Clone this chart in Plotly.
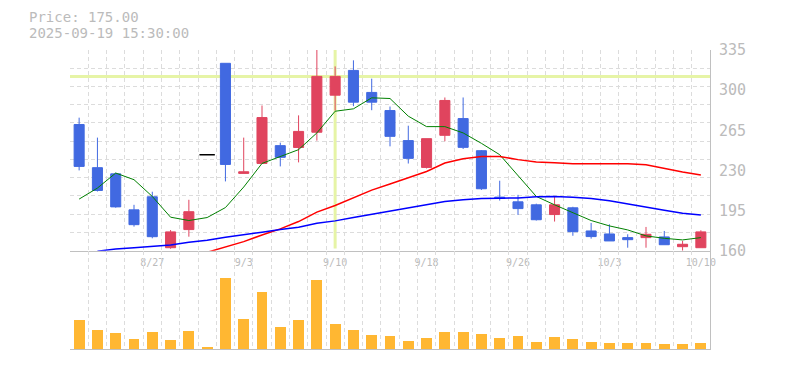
import plotly.graph_objects as go

# ---------------- data ----------------
dates = ["8/21", "8/22", "8/25", "8/26", "8/27", "8/28", "8/29", "9/1", "9/2", "9/3",
         "9/4", "9/5", "9/8", "9/9", "9/10", "9/11", "9/12", "9/16", "9/17", "9/18",
         "9/19", "9/22", "9/24", "9/25", "9/26", "9/29", "9/30", "10/1", "10/2", "10/3",
         "10/6", "10/7", "10/8", "10/9", "10/10"]

open_ = [270, 232.4, 227, 195.6, 207, 162.6, 178.4, 243.7, 323.4, 227.4,
         236.1, 251.6, 250, 263.3, 295.6, 317.2, 298, 282.2, 256, 232.6,
         260.6, 275.2, 247.2, 206.7, 202.6, 200, 191.5, 197.4, 177.2, 174.6,
         171.4, 171.4, 172, 163.5, 162.6]
high = [276, 258.6, 228, 200, 211.4, 178, 204.4, 243.7, 323.4, 258.6,
        286.6, 254.2, 278, 336, 320.7, 326, 310, 285.7, 269, 257.7,
        293.6, 293.6, 247.8, 221, 208.7, 201, 207.3, 198.3, 184.2, 183,
        174.3, 180.7, 177.2, 168.5, 177.8]
low = [230, 211.6, 197.5, 181, 170.8, 161.7, 172.2, 243.7, 220.4, 227.4,
       236, 233.5, 237, 256, 282.2, 286, 282.5, 251, 236, 231.7,
       255.4, 248.7, 213, 203.7, 191.2, 186.3, 185.4, 173, 170.5, 168.5,
       162.6, 162.6, 165.2, 160, 162.6]
close = [233.5, 212.5, 198.2, 182.7, 172.2, 176.4, 194, 243.7, 235.2, 228.8,
         276.1, 241.4, 264, 312, 312, 289.5, 289.5, 259.7, 240.5, 257.7,
         291, 250.1, 214, 205.5, 196.7, 187, 200, 176.6, 172.3, 168.5,
         169.6, 174.3, 165.2, 165.6, 176.4]

volume = [290000, 190000, 160000, 100000, 170000, 90000, 180000, 20000, 710000, 300000,
          570000, 220000, 290000, 690000, 250000, 190000, 140000, 130000, 80000, 110000,
          170000, 170000, 150000, 110000, 130000, 70000, 120000, 100000, 70000, 60000,
          60000, 60000, 50000, 50000, 60000]

ma_short = [205.0, 214.6, 227.7, 221.9, 207.3, 189.2, 186.3, 188.9, 197.6, 215.5,
            236.1, 242.2, 248.1, 262.7, 281.6, 283.7, 293.3, 292.7, 277.3, 268.2,
            268.2, 262.7, 253.6, 243.7, 225.1, 207.3, 200, 193, 186.3, 181.6,
            178.1, 172.9, 170.8, 169.4, 171.4]
ma_mid = [None, None, None, None, None, None, None, 158.6, 163.5, 167.9,
          173.7, 179, 185.4, 193.6, 199.4, 205.8, 212.8, 218.1, 223.3, 229.1,
          236.5, 240.2, 242.2, 242.2, 239.4, 237.3, 236.7, 235.9, 235.9, 235.9,
          235.9, 235, 231.5, 228.6, 226]
ma_long = [None, 159.5, 161.5, 162.6, 164.1, 165, 167.3, 169.1, 171.7, 173.7,
           176.1, 178.4, 180.5, 184, 186, 188.9, 191.8, 194.1, 197.1, 200,
           202.9, 204.4, 205.5, 205.8, 205.9, 207, 207.3, 206.7, 205.5, 203.5,
           200.6, 197.6, 195.3, 192.7, 191.2]

price_ticks = [160, 195, 230, 265, 300, 335]
label_every = 5
label_start = 4
cross_idx = 14
cross_price = 312
header_price = "Price: 175.00"
header_time = "2025-09-19 15:30:00"

# ---------------- styling ----------------
FONT = "DejaVu Sans Mono"
UP = "#e0445e"
DOWN = "#4169e1"
VOL = "#ffb732"
GRID = "#dcdcdc"
AXLINE = "#c0c0c0"
TXT = "#bbbbbb"
CROSS = "#e6f4a6"

n = len(dates)
xs = list(range(n))
pmin, pmax = price_ticks[0], price_ticks[-1]
vol_range = [0, 983000]
split = 0.3288

# split out flat (doji) candles
c_open, c_high, c_low, c_close = [], [], [], []
flat_x, flat_y = [], []
for i in xs:
    if open_[i] == close[i]:
        c_open.append(None); c_high.append(None); c_low.append(None); c_close.append(None)
        flat_x.append(i); flat_y.append(close[i])
    else:
        c_open.append(open_[i]); c_high.append(high[i]); c_low.append(low[i]); c_close.append(close[i])

fig = go.Figure()

fig.add_trace(go.Candlestick(
    x=xs, open=c_open, high=c_high, low=c_low, close=c_close,
    increasing=dict(line=dict(color=UP, width=1), fillcolor=UP),
    decreasing=dict(line=dict(color=DOWN, width=1), fillcolor=DOWN),
    whiskerwidth=0, xaxis="x", yaxis="y", showlegend=False, hoverinfo="skip"))

fig.add_trace(go.Scatter(
    x=flat_x, y=flat_y, mode="markers",
    marker=dict(symbol="line-ew", size=11, line=dict(color="black", width=1.5)),
    xaxis="x", yaxis="y", showlegend=False, hoverinfo="skip"))

fig.add_trace(go.Scatter(x=xs, y=ma_short, mode="lines", line=dict(color="#008000", width=1),
                         xaxis="x", yaxis="y", showlegend=False, hoverinfo="skip"))
fig.add_trace(go.Scatter(x=xs, y=ma_mid, mode="lines", line=dict(color="#ff0000", width=1.5),
                         xaxis="x", yaxis="y", showlegend=False, hoverinfo="skip"))
fig.add_trace(go.Scatter(x=xs, y=ma_long, mode="lines", line=dict(color="#0000ff", width=1.5),
                         xaxis="x", yaxis="y", showlegend=False, hoverinfo="skip"))

fig.add_trace(go.Bar(x=xs, y=volume, width=0.6, marker=dict(color=VOL, line=dict(width=0)),
                     xaxis="x2", yaxis="y2", showlegend=False, hoverinfo="skip"))

# overlay axis carrying the price labels
fig.add_trace(go.Scatter(x=[None], y=[None], xaxis="x", yaxis="y3", showlegend=False,
                         hoverinfo="skip"))

slot_bounds = [k - 0.5 for k in range(n + 1)]
hgrid = [pmin + (pmax - pmin) * k / 11 for k in range(12)]
label_idx = list(range(label_start, n, label_every))

minor_x = dict(tickmode="array", tickvals=slot_bounds, showgrid=True,
               gridcolor=GRID, griddash="4px,3px", gridwidth=1, ticks="")

# page body has an 8px margin, so the figure is sized to end at the window edge
fig.update_layout(
    width=777, height=362,
    margin=dict(l=62, r=75, t=42, b=21),
    paper_bgcolor="white", plot_bgcolor="white",
    boxgap=0.45, boxgroupgap=0,
    bargap=0,
    xaxis=dict(domain=[0, 1], anchor="y", range=[-0.5, n - 0.5],
               tickmode="array", tickvals=label_idx, ticktext=[dates[i] for i in label_idx],
               showgrid=False, zeroline=False, ticks="",
               tickfont=dict(family=FONT, size=10, color=TXT),
               ticklabelstandoff=2,
               showline=True, linecolor=AXLINE, linewidth=1,
               minor=minor_x, rangeslider=dict(visible=False)),
    xaxis2=dict(domain=[0, 1], anchor="y2", matches="x", range=[-0.5, n - 0.5],
                showticklabels=False, showgrid=False, zeroline=False, ticks="",
                showline=True, linecolor=AXLINE, linewidth=1, minor=minor_x),
    yaxis=dict(domain=[split, 1], anchor="x", side="right", range=[pmin, pmax],
               tickmode="array", tickvals=hgrid, showticklabels=False,
               showgrid=True, gridcolor=GRID, griddash="4px,3px", gridwidth=1,
               zeroline=False, ticks="",
               showline=True, linecolor=AXLINE, linewidth=1),
    yaxis3=dict(overlaying="y", side="right", range=[pmin, pmax],
                tickmode="array", tickvals=price_ticks,
                showgrid=False, zeroline=False, ticks="",
                tickfont=dict(family=FONT, size=15, color=TXT),
                ticklabelstandoff=8, showline=False),
    yaxis2=dict(domain=[0, split], anchor="x2", side="right", range=vol_range,
                showticklabels=False, showgrid=False, zeroline=False, ticks="",
                showline=True, linecolor=AXLINE, linewidth=1),
    shapes=[
        dict(type="line", xref="x", x0=-0.5, x1=n - 0.5, yref="y", y0=cross_price, y1=cross_price,
             line=dict(color=CROSS, width=3), layer="below"),
        dict(type="line", xref="x", x0=cross_idx, x1=cross_idx, yref="y", y0=pmin + 2, y1=pmax,
             line=dict(color=CROSS, width=3), layer="below"),
    ],
    annotations=[
        dict(text=header_price, xref="paper", yref="paper", x=(27 - 70) / 640,
             y=(349 - 17) / 299, xanchor="left", yanchor="middle", showarrow=False,
             font=dict(family=FONT, size=14, color=TXT)),
        dict(text=header_time, xref="paper", yref="paper", x=(27 - 70) / 640,
             y=(349 - 33.5) / 299, xanchor="left", yanchor="middle", showarrow=False,
             font=dict(family=FONT, size=14, color=TXT)),
    ],
)

fig.write_html("out.html")
